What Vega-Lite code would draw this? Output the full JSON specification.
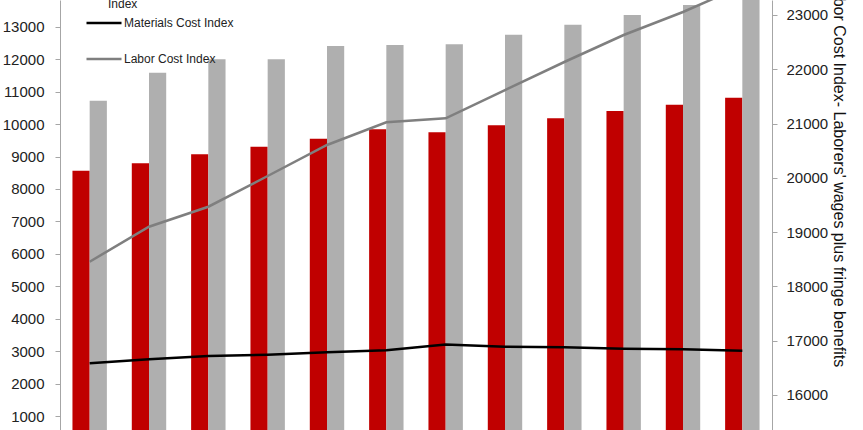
{
  "$schema": "https://vega.github.io/schema/vega-lite/v6.json",
  "width": 712,
  "height": 430,
  "autosize": "none",
  "padding": {"left": 60, "top": 0, "right": 91, "bottom": 0},
  "background": "white",
  "config": {
    "view": {"stroke": null},
    "font": "Liberation Sans",
    "axis": {
      "grid": false,
      "domainColor": "#a6a6a6",
      "tickColor": "#a6a6a6",
      "labelColor": "#222222",
      "labelFontSize": 15,
      "tickSize": 5,
      "format": "d"
    }
  },
  "data": {
    "values": [
      {"year": "2003", "bci": 8564, "cci": 10721, "mat": 2629, "labor": 18455},
      {"year": "2004", "bci": 8792, "cci": 11584, "mat": 2752, "labor": 19100},
      {"year": "2005", "bci": 9069, "cci": 11997, "mat": 2854, "labor": 19468},
      {"year": "2006", "bci": 9304, "cci": 11997, "mat": 2894, "labor": 20034},
      {"year": "2007", "bci": 9550, "cci": 12407, "mat": 2968, "labor": 20605},
      {"year": "2008", "bci": 9840, "cci": 12438, "mat": 3029, "labor": 21024},
      {"year": "2009", "bci": 9747, "cci": 12459, "mat": 3205, "labor": 21097},
      {"year": "2010", "bci": 9963, "cci": 12755, "mat": 3140, "labor": 21618},
      {"year": "2011", "bci": 10179, "cci": 13063, "mat": 3122, "labor": 22134},
      {"year": "2012", "bci": 10404, "cci": 13362, "mat": 3079, "labor": 22631},
      {"year": "2013", "bci": 10598, "cci": 13670, "mat": 3060, "labor": 23055},
      {"year": "2014", "bci": 10814, "cci": 14000, "mat": 3017, "labor": 23534}
    ]
  },
  "encoding": {
    "x": {
      "field": "year",
      "type": "ordinal",
      "axis": null,
      "scale": {"paddingInner": 0.42, "paddingOuter": 0.21}
    }
  },
  "layer": [
    {
      "transform": [
        {"calculate": "datum.bci", "as": "Building Cost Index"},
        {"calculate": "datum.cci", "as": "Construction Cost Index"},
        {"fold": ["Building Cost Index", "Construction Cost Index"], "as": ["series", "value"]}
      ],
      "mark": {"type": "bar", "clip": true},
      "encoding": {
        "xOffset": {
          "field": "series",
          "type": "nominal",
          "scale": {"domain": ["Building Cost Index", "Construction Cost Index"]}
        },
        "y": {
          "field": "value",
          "type": "quantitative",
          "scale": {"domain": [573, 13824], "nice": false, "zero": false},
          "axis": {
            "orient": "left",
            "title": null,
            "values": [1000, 2000, 3000, 4000, 5000, 6000, 7000, 8000, 9000, 10000, 11000, 12000, 13000],
            "labelPadding": 11
          }
        },
        "color": {
          "field": "series",
          "type": "nominal",
          "scale": {
            "domain": ["Building Cost Index", "Construction Cost Index"],
            "range": ["#c00000", "#afafaf"]
          },
          "legend": {
            "orient": "none",
            "legendX": 36,
            "legendY": -34,
            "title": null,
            "symbolType": "square",
            "symbolSize": 60,
            "labelFontSize": 12,
            "labelColor": "#222222",
            "labelOffset": 0,
            "rowPadding": 6,
            "labelExpr": "datum.label == 'Construction Cost Index' ? ['Construction Cost', 'Index'] : datum.label"
          }
        }
      }
    },
    {
      "mark": {"type": "line", "strokeWidth": 2.5, "clip": true},
      "encoding": {
        "y": {
          "field": "mat",
          "type": "quantitative",
          "scale": {"domain": [573, 13824], "nice": false, "zero": false},
          "axis": null
        },
        "stroke": {"datum": "Materials Cost Index"}
      }
    },
    {
      "mark": {"type": "line", "strokeWidth": 2.5, "clip": true},
      "encoding": {
        "y": {
          "field": "labor",
          "type": "quantitative",
          "scale": {"domain": [15355, 23276], "nice": false, "zero": false},
          "axis": {
            "orient": "right",
            "title": "Labor Cost Index- Laborers' wages plus fringe benefits",
            "titleFontSize": 16,
            "titleFontWeight": "normal",
            "titleColor": "#111111",
            "titleAngle": 90,
            "titleX": 66,
            "titleY": 173,
            "titleAlign": "center",
            "titleBaseline": "middle",
            "values": [16000, 17000, 18000, 19000, 20000, 21000, 22000, 23000],
            "labelPadding": 9
          }
        },
        "stroke": {
          "datum": "Labor Cost Index",
          "scale": {
            "domain": ["Materials Cost Index", "Labor Cost Index"],
            "range": ["#000000", "#7f7f7f"]
          },
          "legend": {
            "orient": "none",
            "legendX": 25,
            "legendY": 4,
            "title": null,
            "symbolType": "stroke",
            "symbolSize": 1225,
            "symbolStrokeWidth": 2.5,
            "labelFontSize": 12,
            "labelColor": "#222222",
            "labelOffset": 1,
            "rowPadding": 11
          }
        }
      }
    }
  ],
  "resolve": {"scale": {"y": "independent"}}
}
